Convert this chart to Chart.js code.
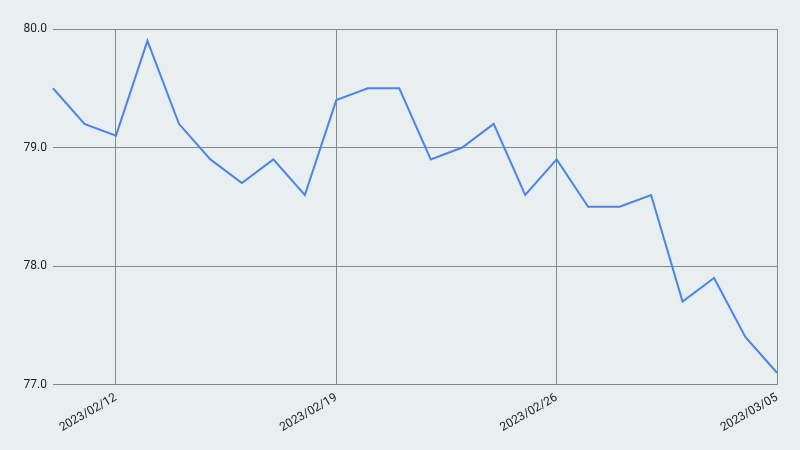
<!DOCTYPE html>
<html>
<head>
<meta charset="utf-8">
<script src="https://cdn.jsdelivr.net/npm/chart.js@4"></script>
<style>
  html, body { margin: 0; padding: 0; background: #e9eff0; }
  #wrap { width: 800px; height: 450px; }
</style>
</head>
<body>
<div id="wrap"><canvas id="g_line"></canvas></div>
<script>
Chart.defaults.font.family = "Roboto, 'DejaVu Sans', sans-serif";
Chart.defaults.font.size = 12;
Chart.defaults.color = '#222222';

// daily dates and values
const dates = [
    '2023/02/10', '2023/02/11', '2023/02/12', '2023/02/13', '2023/02/14', '2023/02/15',
    '2023/02/16', '2023/02/17', '2023/02/18', '2023/02/19', '2023/02/20', '2023/02/21',
    '2023/02/22', '2023/02/23', '2023/02/24', '2023/02/25', '2023/02/26', '2023/02/27',
    '2023/02/28', '2023/03/01', '2023/03/02', '2023/03/03', '2023/03/04', '2023/03/05'
];
const values = [
    79.5, 79.2, 79.1, 79.9, 79.2, 78.9,
    78.7, 78.9, 78.6, 79.4, 79.5, 79.5,
    78.9, 79.0, 79.2, 78.6, 78.9, 78.5,
    78.5, 78.6, 77.7, 77.9, 77.4, 77.1
];
const shownDates = ['2023/02/12', '2023/02/19', '2023/02/26', '2023/03/05'];
const yTicks = [77, 78, 79, 80];

let context = document.getElementById('g_line').getContext('2d');
let config = {
    type: 'line',
    data: {
        labels: dates,
        datasets: [{
            data: values,
            borderColor: '#4a86e8',
            borderWidth: 2,
            pointRadius: 0,
            tension: 0,
            fill: false
        }]
    },
    options: {
        responsive: true,
        maintainAspectRatio: false,
        animation: false,
        layout: { padding: { top: 29, right: 23, left: 0, bottom: 9 } },
        plugins: {
            legend: { display: false },
            tooltip: { enabled: false }
        },
        scales: {
            x: {
                offset: false,
                border: { display: false },
                grid: { color: '#7f8c8d', lineWidth: 1, drawTicks: false },
                ticks: {
                    autoSkip: false,
                    minRotation: 30,
                    maxRotation: 30,
                    padding: 6,
                    callback: function(val, i) {
                        let lab = dates[i];
                        return shownDates.includes(lab) ? lab : null;
                    }
                }
            },
            y: {
                min: 77,
                max: 80,
                border: { display: false },
                grid: { color: '#7f8c8d', lineWidth: 1, drawTicks: false },
                afterBuildTicks: function(scale) {
                    scale.ticks = yTicks.map(v => ({ value: v }));
                },
                afterFit: function(scale) { scale.width = 53; },
                ticks: {
                    padding: 6,
                    callback: v => v.toFixed(1)
                }
            }
        }
    }
};
let gLine = new Chart(context, config);
</script>
</body>
</html>
